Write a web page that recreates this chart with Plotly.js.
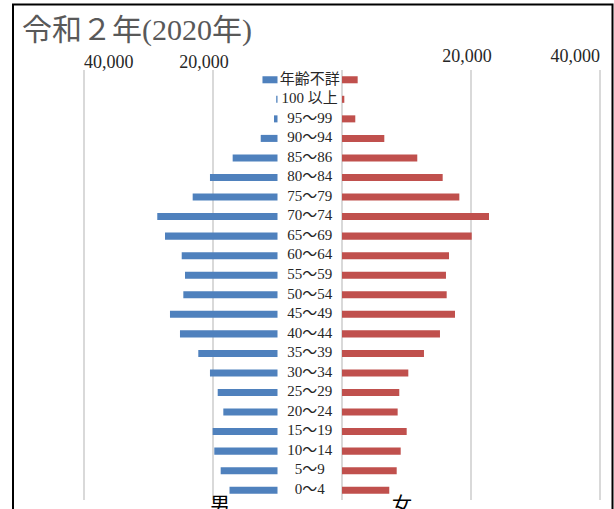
<!DOCTYPE html>
<html>
<head>
<meta charset="utf-8">
<script src="https://cdn.plot.ly/plotly-3.0.1.min.js"></script>
<style>
  html, body { margin: 0; padding: 0; background: #fff; }
  #chart { width: 614px; height: 509px; }
</style>
</head>
<body>
<div id="chart"></div>
<script>
// Age groups, top of the pyramid first
const ageGroups = ['年齢不詳', '100 以上', '95～99', '90～94', '85～86', '80～84', '75～79',
  '70～74', '65～69', '60～64', '55～59', '50～54', '45～49', '40～44', '35～39',
  '30～34', '25～29', '20～24', '15～19', '10～14', '5～9', '0～4'];

// Population by age group (persons)
const male = [2330, 200, 540, 2600, 6950, 10470, 13150, 18640, 17440, 14850, 14340,
  14600, 16670, 15120, 12280, 10470, 9270, 8400, 10050, 9800, 8810, 7440];
const female = [2430, 360, 2060, 6560, 11670, 15610, 18190, 22790, 20110, 16590, 16120,
  16230, 17520, 15190, 12710, 10280, 8880, 8630, 10030, 9100, 8480, 7330];

// Axis gridlines and tick labels
const gridVals = [-40000, -20000, 0, 20000, 40000];
const tickLabels = { '-40000': '40,000', '-20000': '20,000', '20000': '20,000', '40000': '40,000' };

// Width of the central label column, in axis units
const LABEL_GAP = 10000;

const W = 614, H = 509;
const M = { l: 20, r: 8, t: 70, b: 9 };
const plotW = W - M.l - M.r, plotH = H - M.t - M.b;
const px = x => (x - M.l) / plotW;            // pixel -> paper x
const py = y => (H - M.b - y) / plotH;        // pixel -> paper y

const serif = '"Liberation Serif", "Noto Sans CJK JP", serif';
const tickFont = { family: serif, size: 18, color: '#262626' };

const range = [-(342 - M.l) / 0.00645, (W - M.r - 342) / 0.00645];

const traces = [
  {
    type: 'bar', orientation: 'h', name: '男',
    y: ageGroups, x: male.map(v => -v), base: -LABEL_GAP,
    marker: { color: '#4f81bd', line: { width: 0 } },
    hoverinfo: 'skip'
  },
  {
    type: 'bar', orientation: 'h', name: '女',
    y: ageGroups, x: female,
    marker: { color: '#c0504d', line: { width: 0 } },
    hoverinfo: 'skip'
  },
  {
    type: 'scatter', mode: 'text',
    y: ageGroups, x: ageGroups.map(() => -LABEL_GAP / 2),
    text: ageGroups, textposition: 'middle center',
    textfont: { family: serif, size: 15, color: '#262626' },
    hoverinfo: 'skip'
  }
];

// one overlaid axis per tick label, so each label can sit inside the chart frame
const labelAxes = [
  { id: 2, val: -40000, opts: { ticklabelposition: 'outside right', ticklabelstandoff: -3 } },
  { id: 3, val: -20000, opts: { ticklabelshift: -9, ticklabelstandoff: -3 } },
  { id: 4, val: 20000, opts: { ticklabelshift: -4, ticklabelstandoff: 3 } },
  { id: 5, val: 40000, opts: { ticklabelposition: 'outside left', ticklabelstandoff: 3 } }
];

const layout = {
  width: W, height: H,
  margin: M,
  paper_bgcolor: '#ffffff', plot_bgcolor: '#ffffff',
  showlegend: false,
  barmode: 'overlay',
  bargap: 0.64,
  font: { family: serif, color: '#262626' },
  title: {
    text: '令和２年(2020年)',
    x: 22 / W, xref: 'container', xanchor: 'left',
    y: 1 - 29 / H, yref: 'container', yanchor: 'middle',
    font: { family: serif, size: 30, color: '#595959' }
  },
  xaxis: {
    side: 'top', range: range, fixedrange: true,
    tickvals: gridVals, showticklabels: false,
    showgrid: true, gridcolor: '#d9d9d9', gridwidth: 2,
    zeroline: false, showline: false, ticks: ''
  },
  yaxis: {
    type: 'category', range: [ageGroups.length - 0.5, -0.5], fixedrange: true,
    showticklabels: false, showgrid: false, zeroline: false, ticks: ''
  },
  annotations: [
    { text: '男', xref: 'paper', yref: 'paper', x: px(220), y: py(492),
      xanchor: 'center', yanchor: 'top', showarrow: false,
      font: { family: serif, size: 20, color: '#000' } },
    { text: '女', xref: 'paper', yref: 'paper', x: px(402), y: py(492),
      xanchor: 'center', yanchor: 'top', showarrow: false,
      font: { family: serif, size: 20, color: '#000' } }
  ],
  shapes: [
    { type: 'rect', xref: 'paper', yref: 'paper',
      x0: px(13), x1: px(612.5), y0: py(530), y1: py(4.5),
      line: { color: '#000', width: 2 }, fillcolor: 'rgba(0,0,0,0)' }
  ]
};

labelAxes.forEach(a => {
  layout['xaxis' + a.id] = Object.assign({
    side: 'top', overlaying: 'x', anchor: 'y', range: range, fixedrange: true,
    tickvals: [a.val], ticktext: [tickLabels[String(a.val)]],
    showgrid: false, zeroline: false, showline: false, ticks: '',
    ticklabeloverflow: 'allow', tickfont: tickFont
  }, a.opts);
  traces.push({
    type: 'scatter', mode: 'none', xaxis: 'x' + a.id, yaxis: 'y',
    x: [a.val], y: [ageGroups[0]], hoverinfo: 'skip'
  });
});

Plotly.newPlot('chart', traces, layout, { displayModeBar: false, staticPlot: true });
</script>
</body>
</html>
